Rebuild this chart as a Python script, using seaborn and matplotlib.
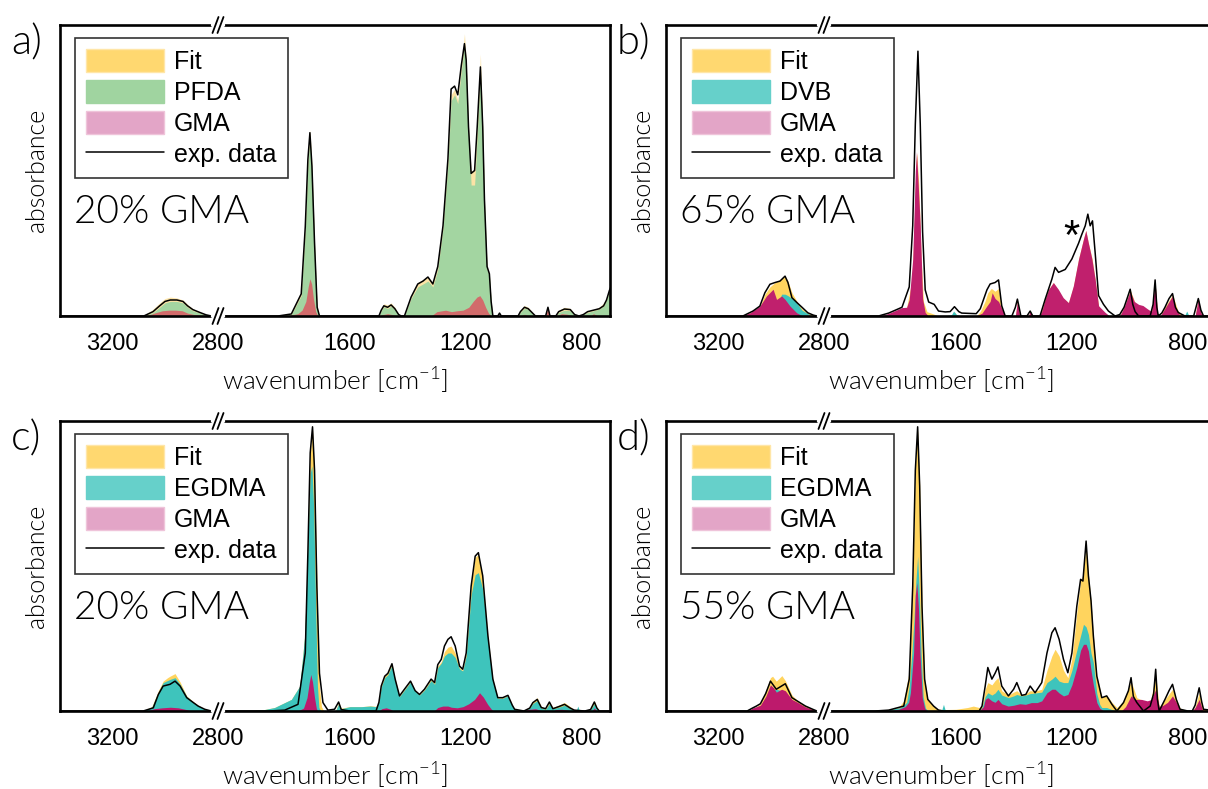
import matplotlib
matplotlib.use("Agg")
import matplotlib.pyplot as plt
from matplotlib.lines import Line2D
from matplotlib.patches import Patch
import pandas as pd
import seaborn as sns

sns.set_theme(style="white")
plt.rcParams['font.family'] = ['Liberation Sans', 'DejaVu Sans']
plt.rcParams['text.color'] = 'black'
plt.rcParams['xtick.color'] = 'black'
plt.rcParams['axes.labelcolor'] = 'black'

# ---------------- data: (wavenumber, absorbance in % of panel height) ----------------
A_EXP = [(3400,0),(3080,0),(3045,1.5),(3020,3.5),(3000,5.0),(2980,5.5),(2955,5.5),(2932,5.0),(2915,3.5),(2895,2.2),(2868,1.2),(2845,0.4),(2825,0),(2800,0),
         (2050,0),(1848,0),(1802,0.7),(1768,7.6),(1754,30.7),(1745,53.8),(1738,63),(1731,51.5),(1722,25),(1713,3),(1705,0),
         (1500,0),(1492,2.0),(1483,3.5),(1470,3.0),(1458,3.8),(1445,2.5),(1432,0.5),(1423,0),(1412,0),
         (1389,6.5),(1366,11),(1348,12),(1331,13.4),(1314,11),(1297,17),(1279,31),(1262,54),(1251,78),(1239,79),(1228,76),(1216,86),
         (1205,93.6),(1199,88),(1191,65),(1182,49),(1170,50),(1161,65),(1150,85.6),(1142,65),(1136,40),(1127,17),(1119,14.5),(1113,5),(1107,0),
         (1090,0),(1084,1.0),(1078,0),(1020,0),(1012,1.5),(998,3.0),(985,2.5),(970,1.0),(960,0),(925,0),(917,3.0),(910,0),(890,0),
         (880,1.5),(860,2.4),(840,2.2),(825,0.5),(810,0),(795,0.5),(780,1.5),(760,2.0),(740,2.5),(725,3.5),(715,5.5),(705,8.8),(700,10)]
A_FIT = [(3400,0),(3085,0),(3050,2.0),(3020,4.5),(3000,6.0),(2980,6.5),(2955,6.2),(2932,5.5),(2915,4.0),(2895,2.5),(2868,1.3),(2845,0.4),(2825,0),(2800,0),
         (2050,0),(1850,0),(1802,0.8),(1768,8),(1754,31),(1745,55),(1738,64),(1731,52),(1722,25),(1713,3),(1705,0),
         (1500,0),(1492,2.5),(1483,4.2),(1470,3.8),(1458,4.5),(1445,3.0),(1432,0.5),(1423,0),(1412,0),(1389,6.5),(1366,11.5),(1348,12.5),
         (1331,13.5),(1314,11.5),(1297,17),(1279,31),(1262,54),(1251,76),(1239,78),(1228,74),(1216,86),(1205,97),(1199,88),(1191,65),
         (1182,50),(1170,50),(1161,66),(1150,90),(1142,65),(1136,40),(1127,17),(1119,14.5),(1113,5),(1107,0),
         (1020,0),(1012,2.0),(998,3.6),(985,3.0),(970,1.2),(960,0),(925,0),(917,2.5),(910,0),(890,0),(880,2.0),(860,3.0),(840,2.6),
         (825,0.6),(810,0),(780,1.5),(760,2.2),(740,3.0),(725,4.5),(715,6),(705,9),(700,10)]
A_COMP = [(3400,0),(3080,0),(3045,1.2),(3020,3.0),(3000,4.5),(2980,5.0),(2955,5.0),(2932,4.5),(2915,3.0),(2895,1.8),(2868,1.0),(2845,0.3),(2825,0),(2800,0),
          (2050,0),(1848,0),(1802,0.5),(1768,7),(1754,29),(1745,52),(1738,62),(1731,50),(1722,24),(1713,2.5),(1705,0),
          (1500,0),(1492,1.8),(1483,3.2),(1470,2.6),(1458,3.4),(1445,2.2),(1432,0.4),(1423,0),(1412,0),(1389,6),(1366,10),(1348,11),
          (1331,12),(1314,10),(1297,16),(1279,30),(1262,52),(1251,74),(1239,76),(1228,73),(1216,84),(1205,93),(1199,87),(1191,64),
          (1182,45),(1170,45),(1161,62),(1150,84),(1142,64),(1136,39),(1127,16),(1119,14),(1113,5),(1107,0),
          (1020,0),(1012,1.3),(998,2.7),(985,2.3),(970,0.9),(960,0),(890,0),(880,1.2),(860,2.0),(840,1.8),(825,0.4),(810,0),
          (780,1.2),(760,1.8),(740,2.4),(725,3.5),(715,5.5),(705,8.5),(700,9.5)]
A_GMA = [(3400,0),(3070,0),(3040,1.0),(3010,1.8),(2985,2.0),(2960,2.0),(2935,1.8),(2915,1.0),(2890,0.5),(2860,0.2),(2840,0),(2800,0),
         (2050,0),(1820,0),(1780,0.8),(1765,2),(1752,5),(1744,10),(1738,12.8),(1732,11),(1726,6),(1718,1.5),(1710,0),
         (1500,0),(1485,0.5),(1470,0.8),(1455,0.5),(1440,0),(1320,0),(1300,1.5),(1270,2.0),(1250,1.5),(1230,1.8),(1210,2.0),(1190,3.0),
         (1175,5),(1162,6.5),(1152,7),(1142,5.5),(1132,3),(1122,1),(1112,0),
         (1010,0),(998,0.6),(985,0),(925,0),(917,3.0),(910,0),(890,0),(870,0.8),(850,0.6),(830,0),(770,0),(760,0.8),(745,0),(700,0)]

B_EXP = [(3400,0),(3106,0),(3068,1.7),(3042,3.4),(3023,8.0),(3004,10.9),(2985,11.5),(2966,12),(2947,13.7),(2936,11.5),(2921,6.3),
         (2902,4.6),(2883,3.0),(2861,1.1),(2840,0.3),(2827,0),(2800,0),
         (2050,0),(1867,0),(1832,1),(1786,3),(1761,10),(1749,31),(1740,66),(1731,91),(1723,66),(1715,29),(1706,9),(1694,4.8),(1675,4.0),
         (1660,1.7),(1637,1.4),(1620,1.5),(1605,3.2),(1590,1.5),(1580,1.0),(1530,0.8),(1516,2.5),(1493,9),(1482,11),(1465,11.5),(1453,12.4),
         (1442,3.5),(1430,0),(1407,0),(1395,3),(1388,5.8),(1380,2),(1376,0),(1355,0),(1344,1.7),(1335,0),(1310,0),(1292,5.8),(1269,12.7),
         (1258,16.7),(1246,15),(1223,16),(1200,19.6),(1177,25),(1166,28),(1154,31),(1145,35),(1137,31),(1129,32.7),(1120,22),(1108,7),
         (1091,4),(1074,1.7),(1051,0),(1035,0.5),(1020,3),(1008,6.5),(999,9.2),(990,4),(982,1.5),(970,0),(930,0),(920,4),(913,12.4),
         (907,3),(902,0),(890,1),(879,3),(865,6),(853,7.7),(843,3),(833,1.2),(810,0),(780,0),(772,3),(764,6),(755,2),(746,0),(700,0)]
B_FIT = [(3400,0),(3106,0),(3068,1.5),(3042,3.2),(3023,7.5),(3004,10),(2985,11.5),(2966,12.5),(2947,13.7),(2936,12),(2921,8.0),
         (2902,5.0),(2883,2.5),(2861,1.0),(2840,0.3),(2827,0),(2800,0),
         (2050,0),(1860,0),(1800,1.0),(1770,3),(1752,12),(1744,30),(1738,52),(1735,56),(1728,45),(1720,20),(1712,5),(1700,1.5),(1680,0.8),
         (1660,0),(1610,0),(1605,1.5),(1598,0),(1530,0),(1516,1.5),(1500,5),(1490,8),(1478,9.5),(1465,8.5),(1453,9.5),(1442,2.5),(1430,0),
         (1395,0),(1388,5.2),(1380,0),(1350,0),(1344,1.5),(1335,0),(1310,0),(1292,5.8),(1280,9.2),(1264,11.5),(1250,9.2),(1235,6.5),
         (1212,4.6),(1195,10),(1177,19.6),(1160,26.5),(1152,29.4),(1143,25),(1130,19.6),(1120,12.7),(1108,3.5),(1090,1.0),(1070,0),
         (1035,0),(1015,4),(999,9.0),(980,4),(960,3),(940,2),(925,1.5),(913,11.5),(905,1),(895,0),(880,3),(853,7.3),(835,2),(820,0),
         (775,0),(764,6),(755,1),(746,0),(700,0)]
B_COMP = [(3400,0),(3100,0),(3060,0.8),(3020,1.7),(2995,2.5),(2975,3.5),(2960,7.5),(2947,7.5),(2936,7.0),(2921,6.0),(2903,4.6),
          (2883,2.0),(2866,1.1),(2845,0),(2800,0),
          (2050,0),(1640,0),(1615,0.5),(1608,1.7),(1598,0.5),(1580,0),(1470,0),(1455,1.7),(1445,1),(1435,0),(1130,0),(1120,1.2),
          (1110,0.5),(1100,0),(1000,0),(993,1.0),(985,0),(920,0),(913,1.0),(905,0),(812,0),(804,1.7),(796,0),(700,0)]
B_GMA = [(3400,0),(3110,0),(3079,1.1),(3042,3.4),(3017,6.9),(2992,9.2),(2979,5.7),(2960,6.9),(2947,5.7),(2928,3.4),(2903,1.1),(2880,0),(2800,0),
         (2050,0),(1860,0),(1832,0.9),(1786,2.9),(1770,3),(1761,5.7),(1749,19.6),(1740,50),(1736,56.5),(1730,45),(1723,31),(1715,6),
         (1706,1.2),(1695,0),(1530,0),(1510,1),(1493,3.5),(1482,5),(1475,8),(1465,6),(1453,5),(1442,2.5),(1430,0),(1395,0),(1388,5.2),
         (1380,0),(1350,0),(1344,1.7),(1335,0),(1315,0),(1305,1.2),(1292,5.8),(1280,9.2),(1264,11.5),(1247,9.2),(1230,6.3),(1212,4.6),
         (1195,10.4),(1177,19.6),(1160,26.5),(1152,29.4),(1143,25),(1131,19.6),(1120,12.7),(1108,3.5),(1085,1.2),(1070,0),(1035,0),
         (1020,3),(999,8.6),(985,5),(970,4.0),(955,3.6),(940,2.5),(925,1.5),(913,11.5),(905,1),(895,0),(880,2.5),(853,6.9),(840,2),
         (825,0),(775,0),(764,6),(755,1),(746,0),(700,0)]

C_EXP = [(3400,0),(3082,0),(3044,1.1),(3025,5.7),(3007,8.6),(2981,9.2),(2962,10.3),(2943,8.6),(2918,4.6),(2893,2.9),(2875,1.7),
         (2850,0.6),(2826,0),(2800,0),
         (2050,0),(1880,0),(1825,0.3),(1779,2.3),(1754,20),(1745,54.6),(1737,89),(1729,98),(1722,83),(1714,43),(1705,13),(1693,2.9),
         (1676,0.3),(1653,0.6),(1639,3.1),(1630,0.5),(1600,0),(1510,0),(1500,3),(1492,8.6),(1480,12),(1469,13),(1455,16.3),(1444,11),
         (1429,5.2),(1412,7.5),(1391,10.3),(1375,7),(1360,5.7),(1343,7.5),(1320,11),(1308,9.8),(1297,16),(1285,17.8),(1274,22.4),
         (1262,24.7),(1251,25.6),(1237,22.4),(1222,15.5),(1211,14.4),(1199,20),(1182,43),(1168,53.4),(1157,54.6),(1142,46.6),(1124,25.9),
         (1107,11),(1090,4.6),(1073,4.6),(1055,5.4),(1040,2),(1032,0.6),(1000,0),(980,1.0),(969,2.9),(954,4.0),(940,1.2),(925,0.8),
         (912,3.1),(900,0.8),(880,1.5),(860,2.3),(840,1.0),(826,0.3),(790,0),(770,0.5),(757,3.1),(748,1),(740,0),(700,0)]
C_FIT = [(3400,0),(3085,0),(3050,1.5),(3025,7),(3007,10.3),(2990,11.5),(2981,12),(2962,12.9),(2943,10),(2918,5.2),(2893,3.2),
         (2875,2.0),(2850,0.7),(2826,0),(2800,0),
         (2050,0),(1960,0),(1900,0.4),(1860,1.2),(1802,4),(1773,8.6),(1756,25.9),(1745,58),(1737,88),(1729,97),(1722,80),(1716,55),
         (1710,25),(1705,8),(1698,1.5),(1690,0),(1650,0),(1639,3.0),(1630,1.0),(1600,1.5),(1560,1.5),(1530,1.8),(1510,1.6),(1500,3.2),
         (1492,8.8),(1480,12.2),(1469,13.2),(1455,16.3),(1444,11),(1429,5.2),(1412,7.5),(1391,10.3),(1375,7),(1360,5.7),(1343,7.5),
         (1320,11),(1308,9.5),(1297,15.5),(1285,17),(1274,20.5),(1262,22),(1251,22.4),(1237,20),(1222,15),(1211,14),(1199,20),(1182,43),
         (1168,53),(1157,54),(1142,46),(1124,25.5),(1107,11),(1090,4.6),(1073,4.6),(1055,5.4),(1040,2),(1032,0.6),(1000,0),(980,1.2),
         (969,3.2),(954,4.6),(940,1.5),(925,0.8),(912,3.1),(900,1.2),(880,2.0),(860,2.9),(840,1.5),(826,0.3),(790,0),(770,0.8),
         (757,3.5),(748,1),(740,0),(700,0)]
C_COMP = [(3400,0),(3085,0),(3050,1.3),(3025,6.5),(3007,9.8),(2981,10.9),(2962,11.5),(2943,9.2),(2918,5.0),(2893,3.0),(2875,1.9),
          (2850,0.6),(2826,0),(2800,0),
          (2050,0),(1960,0),(1900,0.4),(1860,1.2),(1802,4),(1773,8.6),(1756,25.9),(1745,57),(1737,82),(1731,84.5),(1725,70),(1716,25.9),
          (1712,8.6),(1707,1.2),(1700,0),(1650,0),(1639,2.5),(1630,0.8),(1600,1.5),(1560,1.5),(1530,1.7),(1510,1.5),(1500,3),(1492,8.3),
          (1480,11.5),(1469,12.5),(1455,15.8),(1444,10.5),(1429,5),(1412,7.2),(1391,10),(1375,6.8),(1360,5.5),(1343,7.2),(1320,10.5),
          (1308,9.2),(1297,15),(1285,16.5),(1274,19),(1262,20),(1251,20),(1237,18.5),(1222,14.5),(1211,13.8),(1199,19),(1182,40),
          (1168,47),(1157,47.7),(1142,42),(1124,24.5),(1107,10.5),(1090,4.4),(1073,4.4),(1055,5.2),(1040,1.8),(1032,0.5),(1000,0),
          (980,1.0),(969,2.6),(954,3.6),(940,1.0),(925,0.6),(912,2.5),(900,0.8),(880,1.3),(860,2.0),(840,0.8),(826,0.3),(820,0),
          (814,1.7),(808,0),(790,0),(770,0.5),(757,2.5),(748,0.6),(740,0),(700,0)]
C_GMA = [(3400,0),(3070,0),(3040,0.8),(3010,1.1),(2980,1.3),(2950,1.1),(2920,0.5),(2900,0),(2800,0),
         (2050,0),(1780,0),(1760,1.0),(1748,4.6),(1740,10),(1735,12.6),(1729,10),(1722,4.6),(1716,1),(1712,0),(1500,0),(1490,0.8),
         (1475,1.1),(1460,0.6),(1450,0),(1310,0),(1297,1.2),(1280,1.7),(1262,1.7),(1250,1.3),(1230,1.1),(1210,1.5),(1190,2.5),(1170,4),
         (1153,6.3),(1140,4.8),(1125,2.3),(1112,0.6),(1105,0),(1000,0),(990,0.5),(960,0.8),(945,0.3),(935,0),(900,0),(890,0.5),
         (870,0.6),(850,0.3),(840,0),(765,0),(757,1.1),(750,0),(700,0)]

D_EXP = [(3400,0),(3090,0),(3070,1.0),(3055,1.7),(3040,2.5),(3020,6),(3002,10.3),(2980,7.5),(2946,9.4),(2921,4.6),(2900,3.4),
         (2870,1.7),(2840,0.5),(2827,0),(2800,0),
         (2050,0),(1880,0),(1832,0.3),(1780,1.7),(1761,11),(1749,43),(1740,83),(1732,98),(1725,77.6),(1717,36.2),(1708,11),(1697,4),
         (1677,1.7),(1660,0.3),(1643,0),(1520,0),(1510,1.7),(1499,8.6),(1490,15),(1476,11),(1465,13),(1455,15.2),(1442,8.6),(1419,5.2),
         (1401,7.5),(1390,9.8),(1373,5.4),(1359,5.7),(1344,8.6),(1327,6.3),(1304,9.8),(1286,20),(1269,27),(1258,28.7),(1244,24.7),
         (1229,17.8),(1214,13.2),(1200,20),(1183,36.2),(1170,45.4),(1162,44.8),(1151,58.6),(1143,46.6),(1134,38),(1126,25.9),(1114,12),
         (1097,4.6),(1080,5.2),(1062,2.3),(1045,0),(1022,2.9),(1005,7),(996,11.5),(988,5),(976,2.9),(953,0),(930,1.7),(918,6),
         (911,14.4),(905,4),(899,0),(879,4),(865,7),(853,9.2),(840,4),(827,0.6),(800,0),(785,0),(775,2),(761,8),(752,3),(746,0.6),(700,0)]
D_FIT = [(3400,0),(3090,0),(3070,0.8),(3055,1.5),(3040,2.5),(3020,7),(3002,11.5),(2994,12),(2980,10.3),(2959,12.2),(2946,10.5),
         (2921,5.5),(2900,3.6),(2870,1.8),(2840,0.5),(2827,0),(2800,0),
         (2050,0),(1880,0),(1830,0.6),(1798,1.2),(1780,3.5),(1761,13.8),(1749,45),(1740,84),(1732,97),(1725,78),(1717,37),(1708,11),
         (1697,4),(1677,1.7),(1660,0.6),(1643,0.5),(1600,0.6),(1560,1.2),(1540,1.7),(1520,1.2),(1510,1.7),(1499,7.5),(1490,9.8),
         (1476,9),(1465,10.5),(1455,11.5),(1442,7),(1419,5.5),(1401,6.5),(1390,7.0),(1373,5.5),(1359,6.0),(1344,7.0),(1327,6.9),
         (1304,7.5),(1286,14),(1269,19),(1258,21.3),(1244,19),(1229,14),(1214,11.5),(1200,18),(1183,34),(1170,45),(1162,47),(1151,57),
         (1143,47),(1134,38),(1126,25.9),(1114,12),(1097,4.8),(1080,5.5),(1062,3),(1045,1.2),(1022,3.5),(996,10.3),(976,4.6),(953,3.5),
         (930,2.9),(911,12.6),(899,1.5),(879,4),(853,7.5),(827,1),(800,0),(785,0),(775,1.5),(761,6.3),(746,0.6),(700,0)]
D_COMP = [(3400,0),(3080,0),(3040,1.5),(3020,4),(3002,7.0),(2980,7.5),(2960,7.0),(2946,6),(2921,3.5),(2900,2.5),(2870,1.2),(2840,0),(2800,0),
          (2050,0),(1880,0),(1830,0.5),(1790,1.2),(1770,3),(1761,8.6),(1752,20),(1745,31),(1738,45),(1732,53.4),(1726,40),(1720,20),
          (1713,5),(1705,1),(1695,0),(1650,0),(1643,2.3),(1636,0),(1520,0),(1510,1.2),(1499,5),(1490,6.3),(1476,5.5),(1465,6.2),
          (1455,7.5),(1442,5.5),(1419,4.6),(1401,5.2),(1390,5.7),(1373,5.2),(1359,5.5),(1344,6.0),(1327,6.2),(1304,6.5),(1286,9.8),
          (1269,11),(1258,12),(1244,10.3),(1229,9.8),(1214,9.8),(1200,14),(1183,21),(1170,26),(1160,29.9),(1151,29),(1143,26.4),
          (1134,20),(1126,16.7),(1114,6),(1104,2.3),(1097,1.2),(1080,1.2),(1062,0.5),(1045,0),(700,0)]
D_GMA = [(3400,0),(3085,0),(3070,1.0),(3055,1.5),(3040,2.0),(3020,5),(3002,9.0),(2990,8.0),(2980,6.5),(2960,7.5),(2946,7.0),
         (2921,4.0),(2900,3.0),(2870,1.4),(2840,0.4),(2827,0),(2800,0),
         (2050,0),(1850,0),(1800,0.5),(1775,1.5),(1763,3),(1757,6.3),(1746,20),(1740,40),(1735,44.3),(1729,35),(1724,20),(1716,4.6),
         (1708,1),(1700,0),(1520,0),(1505,1.5),(1499,4.0),(1490,4.6),(1476,3.5),(1465,3.0),(1455,4.0),(1442,2.5),(1420,1.7),(1400,2.0),
         (1380,2.5),(1360,2.3),(1340,2.9),(1320,2.9),(1304,3.5),(1286,6.3),(1269,7.5),(1258,7.5),(1244,6.2),(1229,5.2),(1214,5.7),
         (1200,9),(1183,15),(1170,21),(1160,23),(1151,23),(1143,20.7),(1134,14),(1126,9),(1114,2.9),(1104,1),(1090,0),(1030,0),
         (1015,1.5),(996,5.2),(980,4),(960,4.0),(940,3.5),(925,4),(911,7.5),(899,1.5),(885,2),(870,3),(853,5.2),(840,3.0),(827,0.5),
         (810,0),(785,0),(775,1.2),(761,4),(750,0.5),(746,0),(700,0)]

TICKS_LEFT = [3200, 2800]
TICKS_RIGHT = [1600, 1200, 800]
PANEL_LETTERS = ["a)", "b)", "c)", "d)"]
PANEL_TEXT = ["20% GMA", "65% GMA", "20% GMA", "55% GMA"]
COMP_NAMES = ["PFDA", "DVB", "EGDMA", "EGDMA"]

# ---------------- layout (pixels) ----------------
W, H = 1208, 789
fig = plt.figure(figsize=(W / 100, H / 100), dpi=100)
fig.patch.set_facecolor("white")


def fx(p):
    return p / W


def fy(p):
    return 1 - p / H


panels = [
    dict(data=(A_FIT, A_COMP, A_GMA, A_EXP), l=60, b=218, r=610, t=25, bot=316,
         cols=("#FCE3A6", "#A3D5A1", "#D26B6B"), ccomp_leg="#A0D4A0"),
    dict(data=(B_FIT, B_COMP, B_GMA, B_EXP), l=666, b=824, r=1216, t=25, bot=316,
         cols=("#FFD45E", "#3EC4BC", "#C0206D"), ccomp_leg="#66D0CA"),
    dict(data=(C_FIT, C_COMP, C_GMA, C_EXP), l=60, b=218, r=610, t=421, bot=711,
         cols=("#FFD45E", "#3EC4BC", "#BD1A6C"), ccomp_leg="#66D0CA"),
    dict(data=(D_FIT, D_COMP, D_GMA, D_EXP), l=666, b=824, r=1216, t=421, bot=711,
         cols=("#FFD45E", "#3EC4BC", "#BD1A6C"), ccomp_leg="#66D0CA"),
]

GEO = ['Lato', 'DejaVu Sans']
TXT = ['Liberation Sans', 'DejaVu Sans']
GEO_W = 300

for i, p in enumerate(panels):
    fit, comp, gma, exp = p["data"]
    h = (p["bot"] - p["t"]) / H
    axL = fig.add_axes([fx(p["l"]), fy(p["bot"]), fx(p["b"]) - fx(p["l"]), h])
    axR = fig.add_axes([fx(p["b"]), fy(p["bot"]), fx(p["r"]) - fx(p["b"]), h])
    ex = pd.DataFrame(exp, columns=["wn", "A"])
    for ax in (axL, axR):
        ax.set_facecolor("none")
        for pts, c in zip((fit, comp, gma), p["cols"]):
            df = pd.DataFrame(pts, columns=["wn", "A"])
            ax.fill_between(df["wn"], 0, df["A"], color=c, lw=0)
        sns.lineplot(data=ex, x="wn", y="A", ax=ax, color="black", lw=1.1,
                     sort=False, estimator=None, legend=False)
        ax.set_ylim(0, 100)
        ax.set_yticks([])
        ax.set_xlabel("")
        ax.set_ylabel("")
        ax.tick_params(axis="x", length=0, pad=12, labelsize=17, labelcolor="black")
        for s in ax.spines.values():
            s.set_linewidth(1.9)
            s.set_color("black")
    axL.set_xlim(3396, 2800)
    axR.set_xlim(2055, 703)
    axL.set_xticks(TICKS_LEFT)
    axR.set_xticks(TICKS_RIGHT)
    axL.set_xticklabels([str(v) for v in TICKS_LEFT], family=TXT, size=17, color="black")
    axR.set_xticklabels([str(v) for v in TICKS_RIGHT], family=TXT, size=17, color="black")
    axL.spines["right"].set_visible(False)
    axR.spines["left"].set_visible(False)

    # break marks
    for ypx in (p["t"], p["bot"]):
        fig.add_artist(Line2D([fx(p["b"] - 5), fx(p["b"] + 5)], [fy(ypx), fy(ypx)],
                              transform=fig.transFigure, color="white", lw=3.2, zorder=20))
        for dx in (-2.5, 2.5):
            fig.add_artist(Line2D([fx(p["b"] + dx - 3), fx(p["b"] + dx + 3)],
                                  [fy(ypx + 8), fy(ypx - 8)], transform=fig.transFigure,
                                  color="black", lw=1.3, zorder=21))

    # labels
    cx = (p["l"] + p["r"]) / 2
    fig.text(fx(cx), fy(p["bot"] + 64), "wavenumber [cm$^{\\mathregular{-1}}$]", ha="center",
             va="center", fontsize=19, family=GEO, fontweight=GEO_W, color="black")
    fig.text(fx(p["l"] - 23), fy((p["t"] + p["bot"]) / 2), "absorbance", rotation=90,
             ha="center", va="center", fontsize=18, family=GEO, fontweight=GEO_W, color="black")
    fig.text(fx(p["l"] - 49), fy(p["t"] + 18), PANEL_LETTERS[i], ha="left", va="center",
             fontsize=30, family=GEO, fontweight=GEO_W, color="black")
    fig.text(fx(p["l"] + 14), fy(p["t"] + 187), PANEL_TEXT[i], ha="left", va="center",
             fontsize=28, family=GEO, fontweight=GEO_W, color="black")

    handles = [Patch(facecolor="#FFD870", edgecolor="#FFE6A8", lw=1),
               Patch(facecolor=p["ccomp_leg"], edgecolor=p["ccomp_leg"], lw=1),
               Patch(facecolor="#E3A5C7", edgecolor="#EFC4DA", lw=1),
               Line2D([0], [0], color="black", lw=1.1)]
    labels = ["Fit", COMP_NAMES[i], "GMA", "exp. data"]
    leg = fig.legend(handles, labels, loc="upper left",
                     bbox_to_anchor=(fx(p["l"] + 15), fy(p["t"] + 13)),
                     bbox_transform=fig.transFigure, borderaxespad=0,
                     handlelength=3.1, handleheight=1.0,
                     labelspacing=0.25, handletextpad=0.4, borderpad=0.45,
                     fancybox=False, framealpha=1, edgecolor="#333333",
                     prop={"family": TXT, "size": 18})
    leg.get_frame().set_linewidth(1.2)
    for t in leg.get_texts():
        t.set_color("black")

    if i == 1:
        axR.text(1203, 23, "*", ha="center", va="baseline", fontsize=30, family=TXT, color="black")

fig.savefig("out.png", dpi=100, facecolor="white")
